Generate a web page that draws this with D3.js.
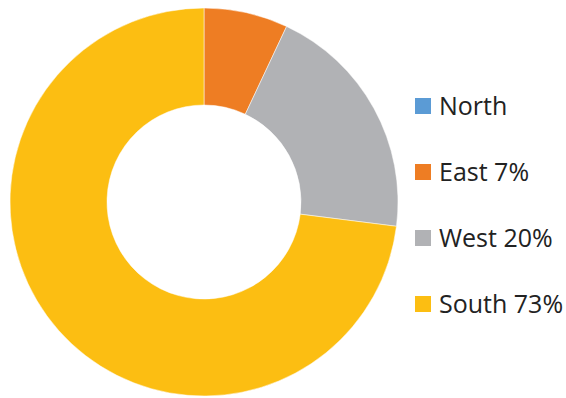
<!DOCTYPE html>
<html>
<head>
<meta charset="utf-8">
<script src="https://cdn.jsdelivr.net/npm/d3@7"></script>
<style>
  body { margin: 0; background: #fff; }
</style>
</head>
<body>
<div id="chart"></div>
<script>
// data
const regions = ["North", "East", "West", "South"];
const shares = [0, 7, 20, 73];
const legendLabels = ["North", "East 7%", "West 20%", "South 73%"];
const colours = ["#5B9BD5", "#EE7D23", "#B1B2B5", "#FCBE12"];

const width = 566, height = 398;
const cx = 204, cy = 202, outerR = 194, innerR = 97;

const svg = d3.select("#chart").append("svg")
  .attr("width", width)
  .attr("height", height);

const pie = d3.pie().sort(null).value((d) => d.value);
const arc = d3.arc().innerRadius(innerR).outerRadius(outerR);
const color = d3.scaleOrdinal().domain(regions).range(colours);

const data = regions.map((r, i) => ({ name: r, value: shares[i] }));

// 畫甜甜圈
svg.append("g")
  .attr("transform", `translate(${cx},${cy})`)
  .selectAll("path")
  .data(pie(data))
  .enter()
  .append("path")
  .attr("d", arc)
  .attr("fill", (d) => color(d.data.name))
  .attr("stroke", "#fff")
  .attr("stroke-width", 0.5);

// 圖例
const legendY = d3.scalePoint().domain(regions).range([106, 304]);
const legend = svg.append("g")
  .selectAll("g")
  .data(regions)
  .enter()
  .append("g")
  .attr("transform", (d) => `translate(415,${legendY(d)})`);

legend.append("rect")
  .attr("x", 0)
  .attr("y", -8)
  .attr("width", 16)
  .attr("height", 16)
  .attr("fill", (d) => color(d));

legend.append("text")
  .attr("x", 24)
  .attr("dy", "0.36em")
  .text((d, i) => legendLabels[i])
  .attr("fill", "#222")
  .attr("font-size", "25px")
  .attr("font-family", "Open Sans");
</script>
</body>
</html>
